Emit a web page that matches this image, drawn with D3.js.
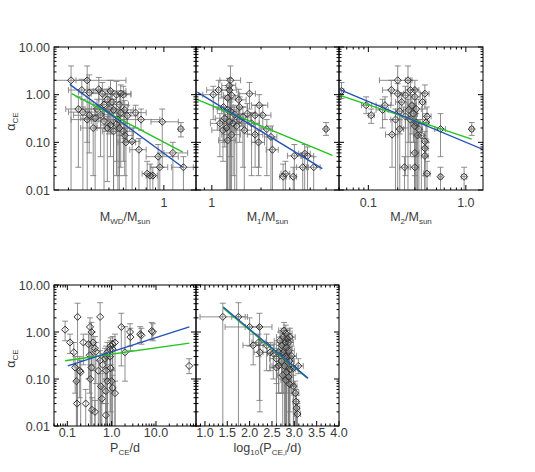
<!DOCTYPE html>
<html><head><meta charset="utf-8">
<script src="https://cdn.jsdelivr.net/npm/d3@7"></script>
<style>body{margin:0;background:#fff}text{font-family:"Liberation Sans",Arial,sans-serif;fill:#3a3a3a}</style>
</head><body>
<svg id="c" width="535" height="472"></svg>
<script>
// ---------------- DATA ----------------
const yTickValues = [10, 1, 0.1, 0.01];
const yTickLabels = ["10.00", "1.00", "0.10", "0.01"];

// rows: [x, xMin, xMax, alpha, alphaMin, alphaMax]
const pWD = [
[0.31,0.20,0.38,2.0,0.001,4.0],[0.38,0.33,0.62,2.0,0.001,4.0],[0.355,0.30,0.45,1.25,0.55,2.1],
[0.39,0.34,0.44,1.1,0.3,2.6],[0.44,0.38,0.50,1.3,0.5,2.3],[0.51,0.41,0.62,1.2,0.6,2.0],
[0.55,0.48,0.62,1.0,0.04,1.9],[0.58,0.52,0.66,1.05,0.2,1.6],[0.60,0.55,0.66,1.0,0.35,1.5],
[0.52,0.46,0.58,0.7,0.25,1.2],[0.57,0.50,0.64,0.62,0.02,1.0],[0.50,0.42,0.58,0.5,0.15,0.9],
[0.53,0.47,0.60,0.48,0.008,0.8],[0.58,0.50,0.66,0.42,0.03,0.7],[0.61,0.54,0.68,0.48,0.12,0.75],
[0.63,0.56,0.72,0.36,0.1,0.6],[0.70,0.62,0.80,0.42,0.2,0.6],[0.75,0.60,0.95,0.30,0.18,0.5],
[0.98,0.85,1.20,0.27,0.03,0.5],[1.24,1.20,1.27,0.19,0.13,0.26],[0.34,0.29,0.40,0.5,0.03,0.9],
[0.36,0.30,0.42,0.43,0.001,0.8],[0.39,0.32,0.47,0.37,0.06,0.7],[0.42,0.35,0.50,0.32,0.001,0.5],
[0.38,0.31,0.44,0.30,0.1,0.45],[0.45,0.40,0.52,0.38,0.05,0.6],[0.47,0.40,0.55,0.28,0.001,0.45],
[0.49,0.43,0.56,0.20,0.015,0.35],[0.51,0.45,0.58,0.23,0.05,0.4],[0.55,0.48,0.62,0.24,0.02,0.4],
[0.57,0.50,0.65,0.20,0.001,0.35],[0.60,0.52,0.68,0.17,0.04,0.3],[0.53,0.46,0.60,0.17,0.001,0.3],
[0.61,0.55,0.68,0.14,0.02,0.25],[0.62,0.56,0.70,0.10,0.001,0.2],[0.67,0.60,0.74,0.105,0.001,0.2],
[0.73,0.65,0.80,0.07,0.001,0.12],[0.93,0.80,1.20,0.05,0.001,0.09],[0.95,0.85,1.05,0.03,0.001,0.06],
[1.12,1.00,1.35,0.06,0.001,0.1],[1.28,1.10,1.45,0.03,0.001,0.05],[0.81,0.76,0.86,0.022,0.001,0.04],
[0.84,0.80,0.88,0.02,0.001,0.035],[0.87,0.83,0.92,0.02,0.001,0.03],[0.43,0.37,0.50,0.5,0.2,0.8],
[0.47,0.41,0.53,0.62,0.3,1.0],[0.46,0.40,0.52,1.05,0.4,1.8],[0.49,0.44,0.55,0.8,0.3,1.3],
[0.56,0.50,0.63,0.3,0.008,0.5],[0.41,0.35,0.48,0.2,0.02,0.35]
];
const pM1 = [
[1.30,1.12,1.50,2.0,0.001,4.0],[1.10,0.93,1.27,1.25,0.5,2.0],[1.28,1.15,1.42,1.25,0.3,2.2],
[1.32,1.18,1.48,0.97,0.4,1.6],[1.25,1.10,1.40,0.85,0.2,1.4],[1.70,1.45,1.85,1.05,0.5,1.8],
[1.46,1.30,1.62,0.78,0.3,1.3],[1.95,1.75,2.20,0.60,0.03,1.0],[2.05,1.85,2.30,0.37,0.2,0.6],
[1.18,1.02,1.35,0.55,0.1,0.9],[1.25,1.08,1.42,0.48,0.001,0.8],[1.30,1.15,1.48,0.45,0.05,0.7],
[1.38,1.20,1.55,0.38,0.001,0.6],[1.20,1.05,1.35,0.32,0.08,0.55],[1.28,1.12,1.45,0.27,0.001,0.45],
[1.35,1.20,1.52,0.25,0.02,0.4],[1.42,1.25,1.60,0.22,0.001,0.38],[1.48,1.30,1.66,0.30,0.1,0.5],
[1.55,1.38,1.72,0.34,0.03,0.55],[1.65,1.45,1.85,0.40,0.15,0.65],[1.75,1.55,1.95,0.25,0.02,0.42],
[1.84,1.65,2.05,0.145,0.03,0.25],[1.93,1.75,2.10,0.10,0.02,0.18],[1.58,1.40,1.75,0.18,0.001,0.3],
[1.32,1.15,1.50,0.145,0.001,0.25],[1.23,1.08,1.38,0.20,0.01,0.35],[1.17,1.00,1.35,0.18,0.04,0.3],
[2.35,2.15,2.55,0.07,0.001,0.12],[3.20,2.90,3.50,0.052,0.001,0.09],[3.70,3.40,4.00,0.058,0.001,0.09],
[3.85,3.55,4.20,0.052,0.001,0.08],[3.60,3.30,3.90,0.03,0.001,0.06],[4.20,3.80,4.60,0.03,0.001,0.05],
[5.00,4.90,5.10,0.19,0.14,0.26],[2.82,2.65,3.00,0.022,0.001,0.04],[2.73,2.60,2.85,0.019,0.001,0.035],
[3.15,3.00,3.30,0.019,0.001,0.03],[2.17,2.00,2.35,0.19,0.02,0.3],[1.84,1.65,2.00,0.37,0.1,0.6],
[1.48,1.30,1.65,0.55,0.25,0.9],[1.28,1.15,1.40,1.55,0.8,2.2],[1.02,0.88,1.15,1.0,0.3,1.5],
[1.12,0.98,1.28,0.25,0.05,0.4],[1.25,1.10,1.40,0.11,0.001,0.2],[2.30,2.10,2.50,0.13,0.001,0.22]
];
const pM2 = [
[0.053,0.05,0.056,1.2,0.83,1.8],[0.095,0.085,0.108,0.60,0.4,0.9],[0.107,0.10,0.115,0.37,0.25,0.5],
[0.148,0.12,0.17,0.60,0.3,0.9],[0.172,0.14,0.20,1.25,0.6,2.0],[0.20,0.13,0.28,2.0,0.001,4.0],
[0.255,0.24,0.27,2.0,0.001,4.0],[0.20,0.17,0.23,1.05,0.4,1.7],[0.24,0.21,0.27,0.97,0.2,1.5],
[0.30,0.27,0.33,1.25,0.001,2.0],[0.30,0.27,0.34,0.90,0.3,1.3],[0.38,0.34,0.42,1.05,0.5,1.6],
[0.31,0.28,0.35,0.50,0.001,0.8],[0.26,0.23,0.29,0.48,0.1,0.8],[0.24,0.21,0.27,0.35,0.02,0.55],
[0.21,0.19,0.23,0.19,0.001,0.3],[0.175,0.15,0.20,0.145,0.03,0.3],[0.31,0.28,0.34,0.26,0.05,0.4],
[0.33,0.30,0.36,0.19,0.001,0.3],[0.40,0.36,0.44,0.35,0.1,0.55],[0.35,0.32,0.38,0.14,0.001,0.25],
[0.38,0.35,0.41,0.105,0.02,0.17],[0.38,0.35,0.41,0.075,0.001,0.12],[0.38,0.35,0.41,0.052,0.001,0.08],
[0.30,0.27,0.33,0.06,0.001,0.1],[0.235,0.21,0.26,0.03,0.001,0.05],[0.30,0.27,0.33,0.03,0.001,0.05],
[0.40,0.37,0.43,0.022,0.001,0.04],[0.55,0.53,0.57,0.019,0.001,0.03],[0.96,0.90,1.02,0.019,0.001,0.03],
[1.15,1.10,1.20,0.19,0.14,0.26],[0.55,0.48,0.62,0.19,0.05,0.4],[0.21,0.19,0.23,0.45,0.15,0.7],
[0.19,0.17,0.21,0.30,0.001,0.5],[0.27,0.24,0.30,0.30,0.05,0.5],[0.29,0.26,0.32,0.40,0.1,0.65],
[0.30,0.27,0.33,0.22,0.02,0.35],[0.22,0.19,0.25,0.70,0.2,1.1],[0.36,0.33,0.39,0.70,0.3,1.1],
[0.28,0.25,0.31,0.60,0.15,1.0],[0.39,0.36,0.42,0.26,0.05,0.4],[0.32,0.29,0.35,0.14,0.001,0.25],
[0.14,0.12,0.16,0.48,0.2,0.8],[0.27,0.24,0.30,1.25,0.5,2.0]
];
// rows: [P_CE, alpha, alphaMin, alphaMax]
const pPce = [
[0.089,1.12,0.65,1.7],[0.115,0.60,0.35,0.9],[0.14,0.37,0.2,0.6],[0.17,2.1,0.001,4.1],
[0.165,0.03,0.001,0.09],[0.15,0.175,0.05,0.3],[0.19,0.15,0.04,0.3],[0.20,0.14,0.001,0.25],
[0.26,0.03,0.001,0.06],[0.325,1.28,0.3,2.0],[0.35,1.0,0.2,1.6],[0.38,0.6,0.15,1.0],
[0.42,0.45,0.001,0.8],[0.44,0.38,0.08,0.6],[0.32,0.32,0.05,0.55],[0.35,0.175,0.001,0.3],
[0.33,0.10,0.001,0.2],[0.36,0.022,0.001,0.04],[0.42,0.02,0.001,0.035],[0.55,2.1,0.001,4.2],
[0.57,0.07,0.001,0.13],[0.63,0.2,0.03,0.35],[0.71,0.27,0.05,0.45],[0.75,0.31,0.1,0.5],
[0.80,0.37,0.001,0.6],[0.92,0.42,0.1,0.65],[0.95,0.5,0.2,0.75],[1.05,0.55,0.15,0.8],
[1.19,0.6,0.001,0.9],[1.05,0.43,0.05,0.65],[0.92,0.3,0.001,0.5],[0.95,0.17,0.02,0.3],
[0.75,0.15,0.001,0.3],[0.80,0.09,0.001,0.17],[0.74,0.055,0.001,0.1],[0.60,0.038,0.001,0.07],
[0.74,0.017,0.001,0.03],[1.05,0.065,0.001,0.12],[1.19,0.05,0.001,0.09],[1.65,1.28,0.19,2.5],
[2.0,0.37,0.09,1.3],[2.6,1.0,0.5,1.5],[2.65,0.78,0.4,1.2],[4.4,0.9,0.6,1.3],
[4.7,0.85,0.55,1.2],[8.0,1.05,0.7,1.6],[8.5,1.0,0.65,1.5],[56,0.19,0.13,0.27],
[0.23,0.6,0.2,0.9],[0.30,0.55,0.1,0.9],[0.55,0.25,0.001,0.4],[0.50,0.15,0.001,0.25],
[1.0,0.09,0.001,0.16],[0.16,0.09,0.001,0.18]
];
const pLogPi = [
[1.40,0.89,1.90,2.1,0.001,4.1],[1.75,1.60,1.95,2.1,0.001,4.2],[2.22,1.90,2.50,1.28,0.035,2.5],
[2.00,1.45,2.20,1.28,0.5,2.0],[2.08,1.85,2.30,0.52,0.2,0.9],[2.20,2.05,2.35,0.60,0.3,0.9],
[2.23,2.10,2.40,0.37,0.02,1.3],[2.46,2.30,2.60,0.37,0.15,0.6],[2.53,2.40,2.70,0.35,0.1,0.55],
[2.60,2.45,2.75,0.27,0.08,0.45],[2.65,2.50,2.80,0.19,0.05,0.3],[2.60,2.45,2.72,0.175,0.001,0.3],
[2.77,2.65,2.90,1.08,0.5,1.6],[2.81,2.70,2.95,0.93,0.4,1.4],[2.75,2.60,2.88,0.78,0.3,1.2],
[2.84,2.72,2.96,0.72,0.2,1.1],[2.80,2.68,2.92,0.60,0.2,0.9],[2.72,2.60,2.85,0.52,0.1,0.8],
[2.83,2.70,2.95,0.47,0.001,0.7],[2.87,2.75,3.00,0.40,0.1,0.65],[2.75,2.62,2.88,0.37,0.05,0.6],
[2.80,2.68,2.92,0.31,0.001,0.5],[2.83,2.72,2.95,0.28,0.05,0.45],[2.89,2.78,3.00,0.24,0.001,0.4],
[2.72,2.60,2.85,0.24,0.05,0.4],[2.78,2.66,2.90,0.19,0.001,0.32],[2.90,2.80,3.02,0.16,0.02,0.28],
[2.83,2.72,2.95,0.14,0.001,0.25],[2.87,2.76,2.98,0.11,0.001,0.2],[2.81,2.70,2.92,0.095,0.001,0.17],
[2.90,2.80,3.00,0.077,0.001,0.14],[2.98,2.90,3.06,0.07,0.001,0.12],[3.02,2.95,3.10,0.05,0.001,0.09],
[3.04,2.97,3.10,0.033,0.001,0.06],[3.05,2.98,3.12,0.024,0.001,0.045],[3.07,3.00,3.14,0.018,0.001,0.03],
[3.09,2.98,3.20,0.19,0.13,0.27],[2.90,2.78,3.02,0.78,0.3,1.2],[2.68,2.55,2.80,0.65,0.2,1.0],
[2.87,2.75,2.98,0.60,0.001,0.9],[2.65,2.52,2.78,0.37,0.05,0.6],[2.94,2.82,3.05,0.31,0.05,0.5],
[2.98,2.88,3.08,0.17,0.001,0.3],[2.74,2.62,2.86,0.12,0.001,0.22],[2.38,2.20,2.55,0.52,0.15,0.9]
];

// fit lines: [[x0, a0], [x1, a1]]
const fitBlueWD = [[0.305,1.64],[1.27,0.030]];
const fitGreenWD = [[0.312,1.05],[1.27,0.062]];
const fitBlueM1 = [[0.815,1.13],[4.74,0.028]];
const fitGreenM1 = [[0.815,0.79],[5.47,0.053]];
const fitBlueM2 = [[0.051,1.27],[1.5,0.071]];
const fitGreenM2 = [[0.051,0.97],[1.15,0.117]];
const fitBluePce = [[0.102,0.19],[56.6,1.29]];
const fitGreenPce = [[0.089,0.244],[56.6,0.58]];
const fitBlueLogPi = [[1.41,3.4],[3.31,0.103]];
const fitGreenLogPi = [[1.41,3.2],[3.28,0.107]];

// x tick labels
const xLabWD = [[1,"1"]];
const xLabM1 = [[1,"1"]];
const xLabM2 = [[0.1,"0.1"],[1,"1.0"]];
const xLabPce = [[0.1,"0.1"],[1,"1.0"],[10,"10.0"]];
const xLabLogPi = [[1,"1.0"],[1.5,"1.5"],[2,"2.0"],[2.5,"2.5"],[3,"3.0"],[3.5,"3.5"],[4,"4.0"]];

// ---------------- LAYOUT ----------------
const svg = d3.select("#c");
const FS = 12.5;
const rowTop = {y0:47, y1:190, tickBase:207, titleBase:221};
const rowBot = {y0:285, y1:426, tickBase:437, titleBase:452};
const panels = [
 {pts:pWD, xerr:true, blue:fitBlueWD, green:fitGreenWD, log:true, dom:[0.25,1.5], x0:54, x1:196, row:rowTop, lab:xLabWD, yLab:true,
  title:[["M",0],["WD",1],["/M",0],["sun",1]]},
 {pts:pM1, xerr:true, blue:fitBlueM1, green:fitGreenM1, log:true, dom:[0.8,6], x0:196, x1:339, row:rowTop, lab:xLabM1, yLab:false,
  title:[["M",0],["1",1],["/M",0],["sun",1]]},
 {pts:pM2, xerr:true, blue:fitBlueM2, green:fitGreenM2, log:true, dom:[0.05,1.5], x0:339, x1:483, row:rowTop, lab:xLabM2, yLab:false,
  title:[["M",0],["2",1],["/M",0],["sun",1]]},
 {pts:pPce, xerr:false, blue:fitBluePce, green:fitGreenPce, log:true, dom:[0.05,80], x0:54, x1:196, row:rowBot, lab:xLabPce, yLab:true,
  title:[["P",0],["CE",1],["/d",0]]},
 {pts:pLogPi, xerr:true, blue:fitBlueLogPi, green:fitGreenLogPi, log:false, dom:[0.8,4.0], x0:196, x1:339, row:rowBot, lab:xLabLogPi, yLab:false,
  title:[["log",0],["10",1],["(P",0],["CE,i",1],["/d)",0]]}
];

function logTicks(d){
  const out=[]; const k0=Math.floor(Math.log10(d[0])), k1=Math.ceil(Math.log10(d[1]));
  for(let k=k0;k<=k1;k++) for(let m=1;m<=9;m++){const v=m*Math.pow(10,k); if(v>=d[0]*0.9999&&v<=d[1]*1.0001) out.push({v,major:m===1});}
  return out;
}
function linTicks(d){
  const out=[]; for(let i=Math.round(d[0]*10);i<=Math.round(d[1]*10);i++){out.push({v:i/10,major:i%5===0});} return out;
}

const errCol="#7a7a7a";
panels.forEach((p,i)=>{
  const r=p.row;
  const x=(p.log?d3.scaleLog():d3.scaleLinear()).domain(p.dom).range([p.x0,p.x1]);
  const y=d3.scaleLog().domain([0.01,10]).range([r.y1,r.y0]);
  const cid="clip"+i;
  svg.append("clipPath").attr("id",cid).append("rect").attr("x",p.x0).attr("y",r.y0).attr("width",p.x1-p.x0).attr("height",r.y1-r.y0);
  const g=svg.append("g").attr("clip-path",`url(#${cid})`);
  const rows=p.pts.map(d=>p.xerr?{x:d[0],xl:d[1],xh:d[2],a:d[3],al:d[4],ah:d[5]}:{x:d[0],xl:null,xh:null,a:d[1],al:d[2],ah:d[3]});
  const cap=3;
  const eb=g.append("g").attr("stroke",errCol).attr("stroke-width",1).attr("fill","none").attr("stroke-opacity",0.85);
  rows.forEach(d=>{
    const cx=x(d.x), cy=y(d.a);
    const yl=y(Math.max(d.al,1e-4)), yh=y(d.ah);
    eb.append("line").attr("x1",cx).attr("x2",cx).attr("y1",yl).attr("y2",yh);
    eb.append("line").attr("x1",cx-cap).attr("x2",cx+cap).attr("y1",yh).attr("y2",yh);
    eb.append("line").attr("x1",cx-cap).attr("x2",cx+cap).attr("y1",yl).attr("y2",yl);
    if(d.xl!==null){
      const xl=x(d.xl), xh=x(d.xh);
      eb.append("line").attr("x1",xl).attr("x2",xh).attr("y1",cy).attr("y2",cy);
      eb.append("line").attr("x1",xl).attr("x2",xl).attr("y1",cy-cap).attr("y2",cy+cap);
      eb.append("line").attr("x1",xh).attr("x2",xh).attr("y1",cy-cap).attr("y2",cy+cap);
    }
  });
  const sym=d3.symbol().type(d3.symbolDiamond2).size(32);
  g.append("g").selectAll("path").data(rows).join("path")
    .attr("d",sym).attr("transform",d=>`translate(${x(d.x)},${y(d.a)})`)
    .attr("fill","none").attr("stroke","#333").attr("stroke-width",1);
  const line=d3.line().x(d=>x(d[0])).y(d=>y(d[1]));
  g.append("path").attr("d",line(p.green)).attr("stroke","#22c41e").attr("stroke-width",1.4).attr("fill","none");
  g.append("path").attr("d",line(p.blue)).attr("stroke","#2552b8").attr("stroke-width",1.4).attr("fill","none");

  // frame
  svg.append("rect").attr("x",p.x0).attr("y",r.y0).attr("width",p.x1-p.x0).attr("height",r.y1-r.y0)
    .attr("fill","none").attr("stroke","#000").attr("stroke-width",1);
  const tg=svg.append("g").attr("stroke","#000").attr("stroke-width",1);
  const xt=p.log?logTicks(p.dom):linTicks(p.dom);
  xt.forEach(t=>{const px=x(t.v), L=t.major?5:2.5;
    tg.append("line").attr("x1",px).attr("x2",px).attr("y1",r.y1).attr("y2",r.y1-L);
    tg.append("line").attr("x1",px).attr("x2",px).attr("y1",r.y0).attr("y2",r.y0+L);});
  logTicks([0.01,10]).forEach(t=>{const py=y(t.v), L=t.major?5:2.5;
    tg.append("line").attr("x1",p.x0).attr("x2",p.x0+L).attr("y1",py).attr("y2",py);
    tg.append("line").attr("x1",p.x1).attr("x2",p.x1-L).attr("y1",py).attr("y2",py);});
  p.lab.forEach(l=>{svg.append("text").attr("x",x(l[0])).attr("y",r.tickBase).attr("text-anchor","middle").attr("font-size",FS).text(l[1]);});
  if(p.yLab){
    yTickValues.forEach((v,j)=>{svg.append("text").attr("x",p.x0-4).attr("y",y(v)+4.5).attr("text-anchor","end").attr("font-size",FS).text(yTickLabels[j]);});
    const yt=svg.append("text").attr("transform",`translate(15,${(r.y0+r.y1)/2+3}) rotate(-90)`).attr("text-anchor","middle").attr("font-size",FS);
    yt.append("tspan").text("α");
    yt.append("tspan").attr("dy",3).attr("font-size",8).text("CE");
  }
  const tt=svg.append("text").attr("x",(p.x0+p.x1)/2).attr("y",r.titleBase).attr("text-anchor","middle").attr("font-size",FS);
  let sub=0;
  p.title.forEach(s=>{const ts=tt.append("tspan").text(s[0]);
    if(s[1]===1){ts.attr("font-size",8); if(!sub){ts.attr("dy",3); sub=1;}}
    else if(sub){ts.attr("dy",-3); sub=0;}});
});
</script>
</body></html>
